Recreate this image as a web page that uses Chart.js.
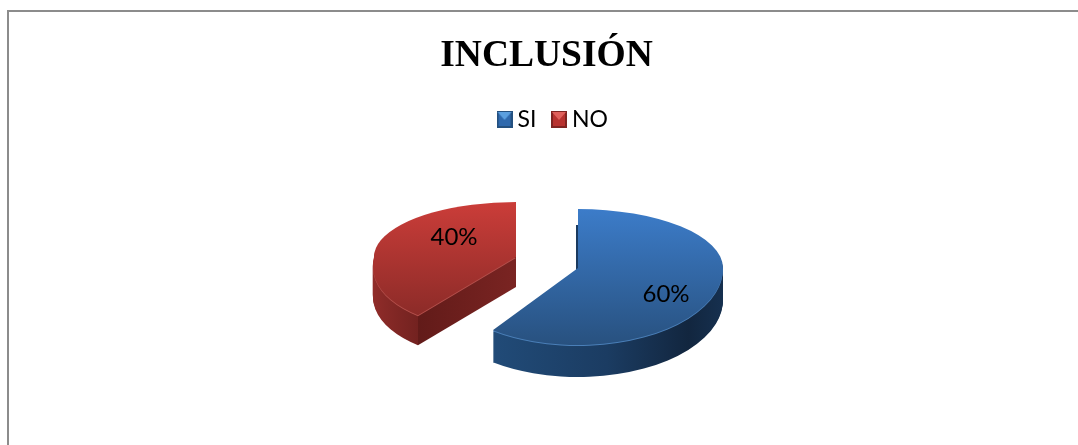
<!DOCTYPE html>
<html><head><meta charset="utf-8">
<style>
html,body{margin:0;padding:0;background:#fff;overflow:hidden;width:1078px;height:445px}
#frame{position:absolute;left:7px;top:10px;width:1090px;height:460px;border-top:2px solid #8c8c8c;border-left:2px solid #8c8c8c}
canvas{position:absolute;left:8px;top:0}
</style>
<script src="https://cdn.jsdelivr.net/npm/chart.js@4"></script>
</head><body>
<div id="frame"></div>
<canvas id="c" width="1077" height="445"></canvas>
<script>
const titleText = 'INCLUSIÓN';
const categories = ['SI', 'NO'];
const values = [60, 40];
const topColors = [['#3c7cc9', '#28517f'], ['#cb3d39', '#8c2b28']];
const rimColors = ['#4a7fb8', '#b5504c'];
const sideStops = [
  [[0, '#214b78'], [0.5, '#1b3c62'], [0.85, '#12263f'], [1, '#16304f']],
  [[0, '#922d2a'], [0.41, '#732220'], [0.412, '#621b19'], [1, '#7a2422']]
];
const legendColors = [['#2f69ad', '#24507f', '#5b9fdf'], ['#b8322f', '#7f2421', '#e0605b']];

// Projected shape of each exploded slice: apex, radii, wall depth, label position.
const shapes = [
  {ax: 570, ay: 268, rx: 145, up: 59, down: 77, shear: 0, depth: 32, xFrom: 483, xTo: 715, yTop: 209, yBot: 345, lx: 88, ly: 26, sliver: true},
  {ax: 508, ay: 257, rx: 142, up: 55, down: 72, shear: -0.25, depth: 30, xFrom: 366, xTo: 508, yTop: 202, yBot: 315, lx: -62, ly: -20, sliver: false}
];

function drawPart(ctx, el, s, part, fill, dx, dy) {
  const R = el.outerRadius, sx = s.rx / R, sy = (part === 'up' ? s.up : s.down) / R;
  ctx.save();
  ctx.translate(dx, dy);
  ctx.beginPath();
  if (part === 'up') ctx.rect(-50, -50, 1200, s.ay + 50);
  else ctx.rect(-50, s.ay, 1200, 600);
  ctx.clip();
  ctx.translate(s.ax, s.ay);
  ctx.transform(sx, 0, part === 'up' ? 0 : s.shear * sy, sy, 0, 0);
  ctx.translate(-el.x, -el.y);
  const saved = el.options;
  el.options = {offset: 0, spacing: 0, circular: true, borderWidth: 0, borderRadius: 0,
    borderColor: 'transparent', borderAlign: 'center', backgroundColor: fill(part, sx, sy)};
  el.draw(ctx);
  el.options = saved;
  ctx.restore();
}

const pie3d = {
  id: 'pie3d',
  afterLayout(chart) {
    chart.legend.left += 9;
    chart.legend.right += 9;
  },
  beforeDatasetDraw(chart) {
    const ctx = chart.ctx, arcs = chart.getDatasetMeta(0).data;
    arcs.forEach((el, i) => {
      const s = shapes[i];
      const side = (part, sx) => {
        const g = ctx.createLinearGradient(el.x + (s.xFrom - s.ax) / sx, 0, el.x + (s.xTo - s.ax) / sx, 0);
        sideStops[i].forEach(st => g.addColorStop(st[0], st[1]));
        return g;
      };
      const top = (part, sx, sy) => {
        const g = ctx.createLinearGradient(0, el.y + (s.yTop - s.ay) / sy, 0, el.y + (s.yBot - s.ay) / sy);
        g.addColorStop(0, topColors[i][0]);
        g.addColorStop(1, topColors[i][1]);
        return g;
      };
      for (let d = s.depth; d >= 2; d--) {
        drawPart(ctx, el, s, 'up', side, 0, d);
        drawPart(ctx, el, s, 'down', side, 0, d);
      }
      if (s.sliver) drawPart(ctx, el, s, 'up', () => '#1a3a5f', -2, 16);
      drawPart(ctx, el, s, 'down', () => rimColors[i], 0, 1);
      drawPart(ctx, el, s, 'up', top, 0, 0);
      drawPart(ctx, el, s, 'down', top, 0, 0);
    });
    return false;
  },
  afterDatasetsDraw(chart) {
    const ctx = chart.ctx;
    ctx.save();
    ctx.font = '24px Lato';
    ctx.fillStyle = '#000';
    ctx.textAlign = 'center';
    ctx.textBaseline = 'middle';
    values.forEach((v, i) => {
      const s = shapes[i];
      ctx.fillText(v + '%', s.ax + s.lx, s.ay + s.ly);
    });
    ctx.restore();
  }
};

function swatch(cols) {
  const c = document.createElement('canvas');
  c.width = 16; c.height = 17;
  const x = c.getContext('2d');
  x.fillStyle = cols[1];
  x.fillRect(0, 0, 16, 17);
  x.fillStyle = cols[0];
  x.fillRect(2, 2, 12, 13);
  x.fillStyle = cols[2];
  x.beginPath();
  x.moveTo(1, 1); x.lineTo(15, 1); x.lineTo(8, 9); x.closePath();
  x.fill();
  return c;
}

new Chart(document.getElementById('c'), {
  type: 'pie',
  data: {
    labels: categories,
    datasets: [{data: values, backgroundColor: topColors.map(c => c[0]), borderWidth: 0}]
  },
  plugins: [pie3d],
  options: {
    responsive: false,
    animation: false,
    layout: {padding: {bottom: 10}},
    plugins: {
      tooltip: {enabled: false},
      title: {display: true, text: titleText, color: '#000',
        font: {family: '"Liberation Serif"', size: 37.5, weight: 'bold'},
        padding: {top: 34, bottom: 8}},
      legend: {
        position: 'top',
        labels: {
          usePointStyle: true, pointStyleWidth: 3, boxHeight: 17, padding: 21, color: '#000',
          font: {family: 'Lato', size: 23},
          generateLabels: () => categories.map((t, i) => ({
            text: t, pointStyle: swatch(legendColors[i]), fillStyle: legendColors[i][0],
            strokeStyle: 'transparent', lineWidth: 0, hidden: false, index: i
          }))
        }
      }
    }
  }
});
</script>
</body></html>
